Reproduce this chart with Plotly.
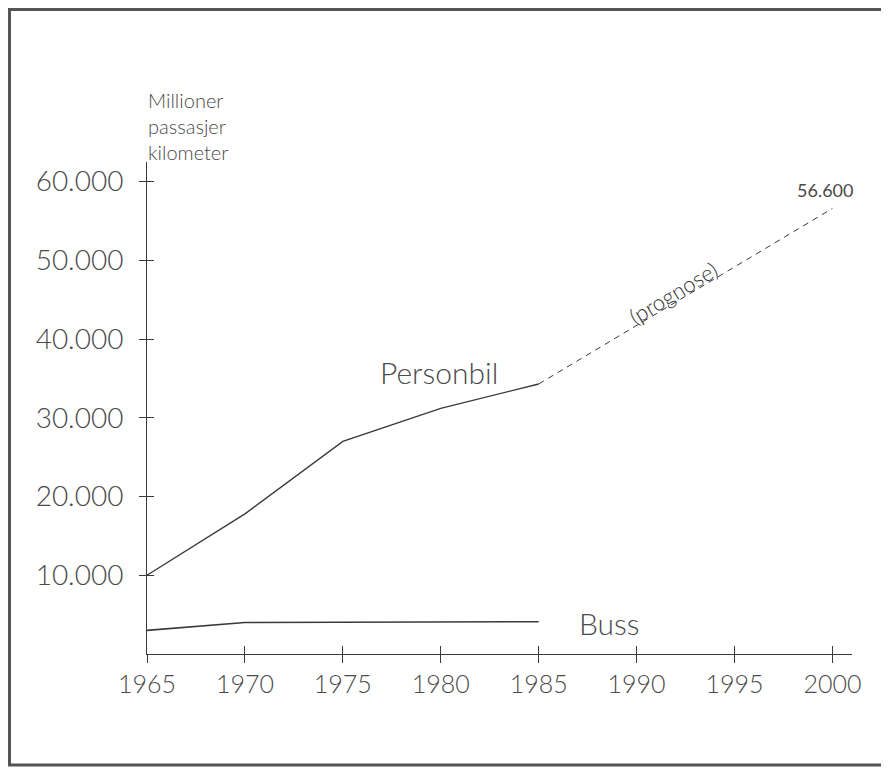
import plotly.graph_objects as go

# data
years_bil = [1965, 1970, 1975, 1980, 1985]
personbil = [10000, 17800, 27000, 31200, 34300]
years_prognose = [1985, 2000]
prognose = [34300, 56600]
years_buss = [1965, 1970, 1985]
buss = [3000, 4000, 4100]

x_ticks = [1965, 1970, 1975, 1980, 1985, 1990, 1995, 2000]
y_ticks = [10000, 20000, 30000, 40000, 50000, 60000]
y_labels = ['10.000', '20.000', '30.000', '40.000', '50.000', '60.000']

# the page puts the figure 8px in from the top-left corner
OFF = 8
W, H = 889, 768
L, R, T, B = 147 - OFF, 37 + OFF, 162 - OFF, 114 + OFF
FONT = 'Lato Light, Roboto Light, Lato'
GREY = '#4a4a4a'
LINE = '#3a3a3a'


def px(x):
    # screen x -> paper x
    return (x - OFF - L) / (W - L - R)


def py(y):
    # screen y -> paper y
    return (H - B - (y - OFF)) / (H - T - B)


fig = go.Figure()
fig.add_trace(go.Scatter(
    x=years_bil, y=personbil, mode='lines',
    line=dict(color=LINE, width=1.4),
    name='Personbil'
))
fig.add_trace(go.Scatter(
    x=years_prognose, y=prognose, mode='lines',
    line=dict(color=LINE, width=1, dash='6px,5px'),
    name='Prognose'
))
fig.add_trace(go.Scatter(
    x=years_buss, y=buss, mode='lines',
    line=dict(color=LINE, width=1.6),
    name='Buss'
))

fig.update_layout(
    width=W, height=H,
    margin=dict(l=L, r=R, t=T, b=B),
    paper_bgcolor='white',
    plot_bgcolor='white',
    showlegend=False,
    xaxis=dict(
        range=[1965, 2001],
        tickvals=x_ticks,
        ticks='outside', ticklen=8, tickcolor=LINE, tickwidth=1,
        showline=True, linecolor=LINE, linewidth=1,
        showgrid=False, zeroline=False,
        tickfont=dict(family=FONT, size=25, color=GREY, weight=300),
    ),
    yaxis=dict(
        range=[0, 62500],
        tickvals=y_ticks, ticktext=y_labels,
        ticks='outside', ticklen=7, tickcolor=LINE, tickwidth=1,
        ticklabelstandoff=10,
        showline=True, linecolor=LINE, linewidth=1,
        showgrid=False, zeroline=False,
        tickfont=dict(family=FONT, size=28, color=GREY, weight=300),
    ),
    xaxis2=dict(
        range=[1965, 2001], overlaying='x',
        tickvals=x_ticks, ticks='inside', ticklen=8, tickcolor=LINE,
        showticklabels=False, showgrid=False, zeroline=False,
    ),
    yaxis2=dict(
        range=[0, 62500], overlaying='y',
        tickvals=y_ticks, ticks='inside', ticklen=7, tickcolor=LINE,
        showticklabels=False, showgrid=False, zeroline=False,
    ),
)
# invisible trace so the mirrored tick axes get drawn
fig.add_trace(go.Scatter(x=[1965], y=[0], xaxis='x2', yaxis='y2',
                         mode='markers', marker=dict(opacity=0),
                         hoverinfo='skip'))

fig.add_annotation(x=px(146), y=py(126), xref='paper', yref='paper',
                   text='Millioner<br>passasjer<br>kilometer', align='left',
                   showarrow=False, xanchor='left', yanchor='middle',
                   font=dict(family=FONT, size=20, color=GREY, weight=300))

label_font = dict(family=FONT, size=30, color=GREY, weight=300)
fig.add_annotation(x=1979.9, y=35800, text='Personbil', showarrow=False,
                   font=label_font)
fig.add_annotation(x=1988.6, y=4000, text='Buss', showarrow=False,
                   font=label_font)
fig.add_annotation(x=1999.6, y=59000, text='56.600', showarrow=False,
                   font=dict(family='Lato', size=18, color=GREY))
fig.add_annotation(x=1991.9, y=45900, text='(prognose)', showarrow=False,
                   textangle=-31,
                   font=dict(family=FONT, size=22, color='#333333', weight=300))

# frame around the figure
frame = dict(color='#555555', width=3)
fig.add_shape(type='line', xref='paper', yref='paper',
              x0=px(OFF), x1=px(889 + OFF), y0=py(OFF + 1.5), y1=py(OFF + 1.5), line=frame)
fig.add_shape(type='line', xref='paper', yref='paper',
              x0=px(OFF + 1.5), x1=px(OFF + 1.5), y0=py(OFF), y1=py(765), line=frame)
fig.add_shape(type='line', xref='paper', yref='paper',
              x0=px(OFF), x1=px(889 + OFF), y0=py(765), y1=py(765), line=frame)

fig.write_html('out.html')
